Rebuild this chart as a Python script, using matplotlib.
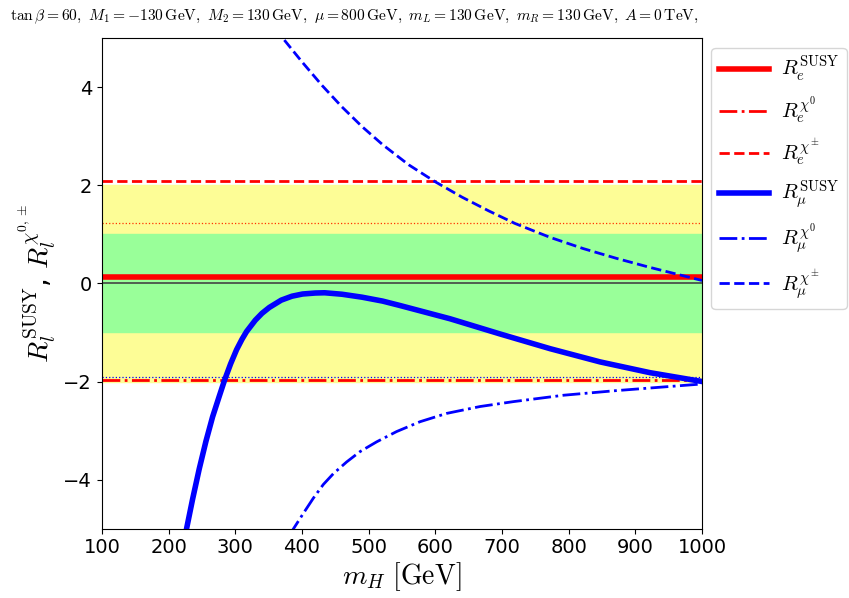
import numpy as np
import matplotlib
matplotlib.use("Agg")
import matplotlib.pyplot as plt

plt.rcParams['mathtext.fontset'] = 'cm'

# R_mu^SUSY (solid blue)
mh_susy = [221, 227, 236, 246, 256, 266, 276, 284, 293, 302, 310, 317, 330, 340, 351, 369, 385, 401, 420, 434,
           460, 490, 521, 547, 572, 622, 697, 772, 847, 922, 1000]
r_mu_susy = [-5.42, -5.0, -4.40, -3.78, -3.22, -2.72, -2.30, -1.97, -1.64, -1.35, -1.14, -0.98, -0.75, -0.61, -0.49,
             -0.34, -0.26, -0.215, -0.195, -0.19, -0.22, -0.28, -0.36, -0.45, -0.54, -0.72, -1.03, -1.33, -1.60,
             -1.82, -2.0]

# R_mu^chi0 (dash-dot blue)
mh_chi0 = [380, 386, 402, 417, 432, 447, 467, 487, 512, 542, 577, 617, 667, 717, 792, 867, 1000]
r_mu_chi0 = [-5.15, -5.03, -4.69, -4.38, -4.10, -3.88, -3.64, -3.43, -3.23, -3.02, -2.82, -2.65, -2.51, -2.41,
             -2.28, -2.19, -2.05]

# R_mu^chi+- (dashed blue)
mh_chic = [360, 369, 400, 430, 460, 490, 521, 560, 599, 640, 680, 720, 772, 822, 872, 921, 1000]
r_mu_chic = [5.2, 5.04, 4.52, 4.04, 3.60, 3.20, 2.83, 2.42, 2.08, 1.76, 1.48, 1.22, 0.94, 0.71, 0.51, 0.33, 0.06]

# electron ratios are flat
r_e_susy = 0.13
r_e_chi0 = -1.96
r_e_chic = 2.08

# reference lines / bands
ref_red = 1.23
ref_blue = -1.90
band_2sig = (-2, 2)
band_1sig = (-1, 1)

fig = plt.figure(figsize=(8.49, 5.98), dpi=100)
ax = fig.add_axes([0.120, 0.116, 0.707, 0.820])

ax.axhspan(*band_2sig, color='#fdfd96', zorder=0)
ax.axhspan(*band_1sig, color='#99ff99', zorder=0)
ax.axhline(0, color='#444444', lw=1.2, zorder=1)
ax.axhline(ref_red, color='#ff3300', lw=0.9, ls=':', zorder=1)
ax.axhline(ref_blue, color='blue', lw=0.9, ls=':', zorder=1)

ax.axhline(r_e_susy, color='red', lw=4, ls='-', label=r'$R_e^{\rm SUSY}$')
ax.axhline(r_e_chi0, color='red', lw=2, ls='-.', label=r'$R_e^{\chi^0}$')
ax.axhline(r_e_chic, color='red', lw=2, ls='--', label=r'$R_e^{\chi^\pm}$')
ax.plot(mh_susy, r_mu_susy, color='blue', lw=4, ls='-', label=r'$R_\mu^{\rm SUSY}$',
        solid_joinstyle='round')
ax.plot(mh_chi0, r_mu_chi0, color='blue', lw=2, ls='-.', label=r'$R_\mu^{\chi^0}$')
ax.plot(mh_chic, r_mu_chic, color='blue', lw=2, ls='--', label=r'$R_\mu^{\chi^\pm}$')

ax.set_xlim(100, 1000)
ax.set_ylim(-5, 5)
ax.set_xticks(np.arange(100, 1001, 100))
ax.set_yticks([-4, -2, 0, 2, 4])
ax.tick_params(labelsize=14)
ax.set_xlabel(r'$m_H\ [\mathrm{GeV}]$', fontsize=20, labelpad=2)
ax.set_ylabel(r'$R_l^{\rm SUSY}$, $R_l^{\chi^{0,\pm}}$', fontsize=20)

ax.legend(loc='upper left', bbox_to_anchor=(1.0, 1.0), fontsize=15,
          labelspacing=0.5, handlelength=2.4, handletextpad=0.6,
          borderaxespad=0.45, borderpad=0.35)

fig.text(0.012, 0.972,
         r'$\tan\beta=60,\ M_1=-130\,\mathrm{GeV},\ M_2=130\,\mathrm{GeV},\ \mu=800\,\mathrm{GeV},\ m_L=130\,\mathrm{GeV},\ m_R=130\,\mathrm{GeV},\ A=0\,\mathrm{TeV},$',
         fontsize=11.2, ha='left', va='center')

fig.savefig('out.png', dpi=100)
